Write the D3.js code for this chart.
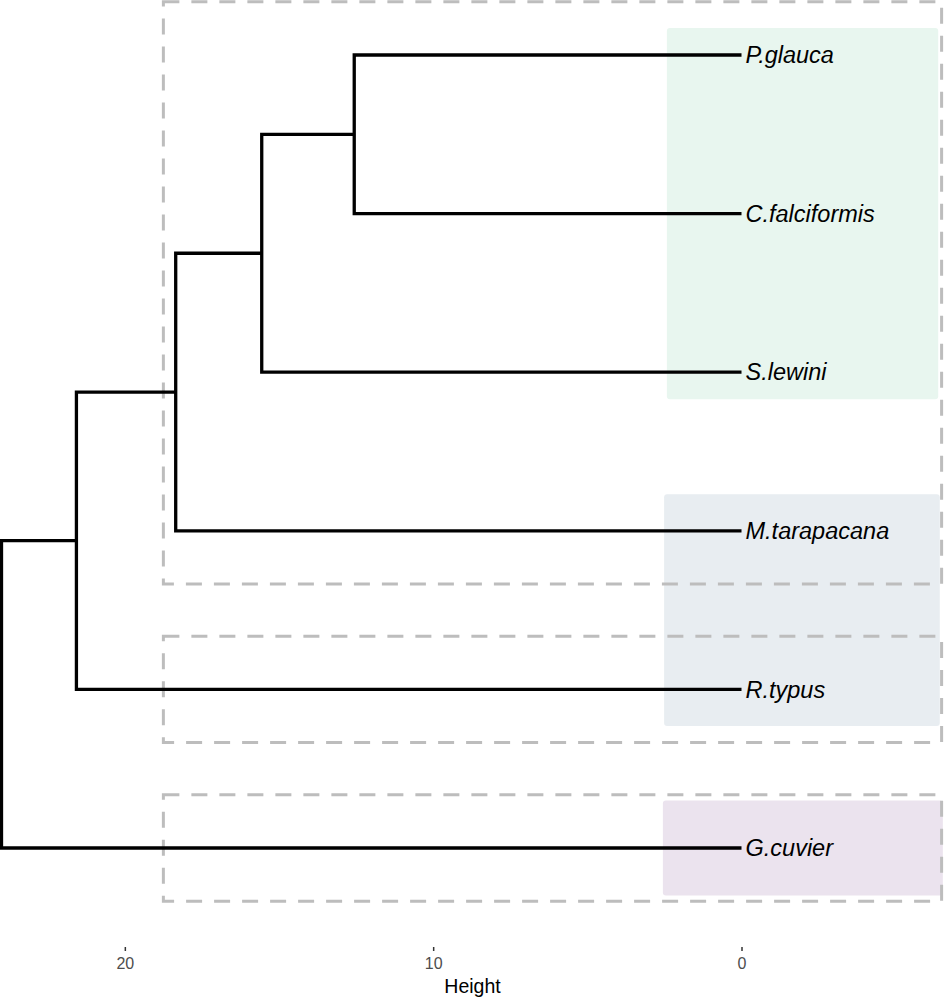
<!DOCTYPE html>
<html>
<head>
<meta charset="utf-8">
<script src="https://cdn.jsdelivr.net/npm/d3@7"></script>
<style>
  html, body { margin: 0; padding: 0; background: #fff; }
  svg { display: block; }
</style>
</head>
<body>
<svg id="chart" width="945" height="997"></svg>
<script>
// ---- data ----
const leaves = ["P.glauca", "C.falciformis", "S.lewini", "M.tarapacana", "R.typus", "G.cuvier"];
// hclust-style merge table: negative = leaf (1-based), positive = earlier merge step
const mergeA = [-1, 1, 2, 3, 4];
const mergeB = [-2, -3, -4, -5, -6];
const mergeHeight = [12.56, 15.56, 18.35, 21.57, 24.0];

const tickValues = [20, 10, 0];
const axisTitle = "Height";

// coloured cluster panels: first leaf, last leaf, height at left, height at right, vertical pad (leaf units)
const fillFirst = [0, 3, 5];
const fillLast = [2, 4, 5];
const fillLeft = [2.42, 2.51, 2.55];
const fillRight = [-6.38, -6.43, -6.53];
const fillPad = [0.17, 0.23, 0.30];
const fillColor = ["#e8f6ef", "#e8edf1", "#ebe3ee"];

// dashed cluster borders
const boxFirst = [0, 4, 5];
const boxLast = [3, 4, 5];
const boxLeft = 18.75;
const boxRight = -6.49;
const boxPad = 0.335;

// ---- scales ----
const svg = d3.select("#chart");
const x = d3.scaleLinear().domain([24, 0]).range([1.5, 741.5]);
const y = d3.scaleLinear().domain([0, 5]).range([55, 848]);

// ---- coloured panels ----
svg.append("g").selectAll("rect")
  .data(fillFirst.map((f, i) => ({ f, l: fillLast[i], a: fillLeft[i], b: fillRight[i], p: fillPad[i], c: fillColor[i] })))
  .join("rect")
  .attr("x", d => x(d.a))
  .attr("width", d => x(d.b) - x(d.a))
  .attr("y", d => y(d.f - d.p))
  .attr("height", d => y(d.l + d.p) - y(d.f - d.p))
  .attr("rx", 3)
  .attr("fill", d => d.c);

// ---- dashed borders ----
svg.append("g").selectAll("rect")
  .data(boxFirst.map((f, i) => ({ f, l: boxLast[i] })))
  .join("rect")
  .attr("x", x(boxLeft))
  .attr("width", x(boxRight) - x(boxLeft))
  .attr("y", d => y(d.f - boxPad))
  .attr("height", d => y(d.l + boxPad) - y(d.f - boxPad))
  .attr("fill", "none")
  .attr("stroke", "#bdbdbd")
  .attr("stroke-width", 3)
  .attr("stroke-dasharray", "16,12");

// ---- dendrogram ----
const nodes = []; // per merge: {pos, h}
function nodeOf(id) {
  if (id < 0) return { pos: -id - 1, h: 0 };
  return nodes[id - 1];
}
const segs = [];
mergeA.forEach((a, i) => {
  const na = nodeOf(a), nb = nodeOf(mergeB[i]);
  const h = mergeHeight[i];
  const pos = (na.pos + nb.pos) / 2;
  nodes.push({ pos, h });
  segs.push({ a: na, b: nb, h });
});

svg.append("g").selectAll("path")
  .data(segs)
  .join("path")
  .attr("d", d => {
    const p = d3.path();
    p.moveTo(x(d.a.h), y(d.a.pos));
    p.lineTo(x(d.h), y(d.a.pos));
    p.lineTo(x(d.h), y(d.b.pos));
    p.lineTo(x(d.b.h), y(d.b.pos));
    return p.toString();
  })
  .attr("fill", "none")
  .attr("stroke", "#000")
  .attr("stroke-width", 3.3)
  .attr("stroke-linejoin", "miter");

// ---- leaf labels ----
svg.append("g").selectAll("text")
  .data(leaves)
  .join("text")
  .attr("x", x(0) + 4)
  .attr("y", (d, i) => y(i))
  .attr("dy", "0.35em")
  .attr("font-family", "Liberation Sans, Arial, sans-serif")
  .attr("font-style", "italic")
  .attr("font-size", 23.5)
  .attr("fill", "#000")
  .text(d => d);

// ---- axis ----
const axis = svg.append("g")
  .attr("transform", "translate(0,947)")
  .call(d3.axisBottom(x).tickValues(tickValues).tickSize(4).tickPadding(7).tickFormat(d3.format("d")));
axis.select(".domain").remove();
axis.selectAll(".tick line").attr("stroke", "#333").attr("stroke-width", 1.5);
axis.selectAll(".tick text")
  .attr("font-family", "Liberation Sans, Arial, sans-serif")
  .attr("font-size", 16)
  .attr("fill", "#4d4d4d");

svg.append("text")
  .attr("x", 472.5)
  .attr("y", 993)
  .attr("text-anchor", "middle")
  .attr("font-family", "Liberation Sans, Arial, sans-serif")
  .attr("font-size", 19.5)
  .attr("fill", "#000")
  .text(axisTitle);
</script>
</body>
</html>
